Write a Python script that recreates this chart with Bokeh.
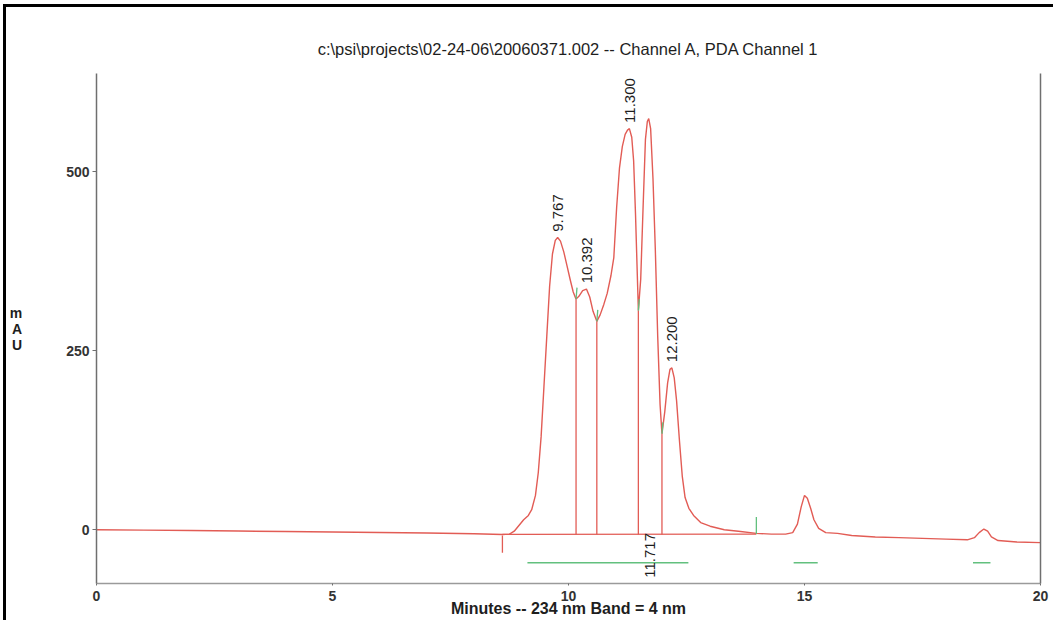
import numpy as np
from bokeh.plotting import figure
from bokeh.models import Range1d, LinearAxis, FixedTicker, ColumnDataSource
from bokeh.core.properties import value
from bokeh.embed import file_html
from bokeh.resources import INLINE

# ---------------- data ----------------
time_min = [0.0, 1.0, 2.0, 3.0, 4.0, 5.0, 6.0, 7.0, 8.0, 8.6,
            8.75, 8.85, 8.95, 9.05, 9.15, 9.22, 9.30, 9.36, 9.42, 9.48,
            9.54, 9.60, 9.66, 9.72, 9.77, 9.83, 9.90, 9.97, 10.04, 10.10,
            10.16, 10.22, 10.30, 10.38, 10.45, 10.52, 10.60, 10.67, 10.75, 10.82,
            10.90, 10.96, 11.02, 11.08, 11.14, 11.20, 11.25, 11.29, 11.34, 11.38,
            11.42, 11.48, 11.53, 11.58, 11.63, 11.67, 11.70, 11.74, 11.79, 11.84,
            11.89, 11.94, 11.98, 12.04, 12.10, 12.15, 12.19, 12.24, 12.29, 12.35,
            12.41, 12.47, 12.55, 12.65, 12.80, 13.00, 13.30, 13.60, 13.98, 14.30,
            14.60, 14.75, 14.85, 14.93, 15.00, 15.06, 15.13, 15.20, 15.30, 15.45,
            15.70, 16.00, 16.50, 17.00, 17.50, 18.00, 18.45, 18.60, 18.70, 18.80,
            18.88, 18.96, 19.10, 19.50, 20.00]
mau = [0.0, -0.5, -1.0, -1.8, -2.5, -3.0, -3.8, -4.5, -5.5, -6.5,
       -6.0, -2.0, 6.0, 14.0, 20.0, 28.0, 48.0, 80.0, 130.0, 200.0,
       270.0, 340.0, 385.0, 404.0, 408.0, 403.0, 388.0, 368.0, 348.0, 332.0,
       322.0, 326.0, 334.0, 336.0, 325.0, 305.0, 291.0, 300.0, 315.0, 330.0,
       355.0, 380.0, 450.0, 505.0, 535.0, 552.0, 558.0, 560.0, 548.0, 515.0,
       440.0, 306.0, 350.0, 450.0, 545.0, 570.0, 574.0, 560.0, 490.0, 390.0,
       270.0, 175.0, 134.0, 165.0, 205.0, 224.0, 226.0, 212.0, 180.0, 125.0,
       75.0, 45.0, 30.0, 20.0, 10.0, 5.0, 0.0, -2.0, -5.0, -6.0,
       -6.0, -4.0, 8.0, 32.0, 48.0, 44.0, 30.0, 14.0, 2.0, -4.0,
       -5.0, -8.0, -10.0, -11.0, -12.0, -13.0, -14.0, -11.0, -4.0, 1.0,
       -2.0, -10.0, -15.0, -17.0, -18.0]

# integration: drop lines at valleys and the drawn baseline
drop_times = [10.16, 10.60, 11.48, 11.98]
drop_heights = [322.0, 291.0, 306.0, 134.0]
baseline_times = [8.60, 13.98]
baseline_values = [-6.5, -6.0]
event_start_time = 8.60
event_end_time = 13.98

# peak retention-time labels
peak_times = [9.767, 10.392, 11.300, 11.717, 12.200]
peak_labels = ["9.767", "10.392", "11.300", "11.717", "12.200"]
peak_heights = [408.0, 336.0, 560.0, 574.0, 226.0]
label_below = [False, False, False, True, False]

# green peak-window bars
window_start = [9.13, 14.77, 18.57]
window_end = [12.54, 15.28, 18.94]

x_ticks = [0, 5, 10, 15, 20]
y_ticks = [0, 250, 500]

# ---------------- styling ----------------
RED = "#e25c55"
GREEN = "#62c07e"
AXIS = "#6f6f6f"
TEXT = "#1e1e1e"
FONT = "Liberation Sans"

p = figure(width=1050, height=616, output_backend="svg", toolbar_location=None,
           x_range=Range1d(0, 20), y_range=Range1d(-75, 637),
           min_border_left=90, min_border_right=16, min_border_top=66,
           min_border_bottom=40,
           title="c:\\psi\\projects\\02-24-06\\20060371.002 -- Channel A, PDA Channel 1")
p.styles = {"margin-left": "3px", "margin-top": "4px",
            "border-left": "3px solid black", "border-top": "3px solid black"}
p.outline_line_color = None
p.grid.visible = False
p.background_fill_color = "white"
p.border_fill_color = "white"

p.title.align = "center"
p.title.text_font = FONT
p.title.text_font_style = "normal"
p.title.text_font_size = "16.5px"
p.title.text_color = TEXT
p.title.standoff = 31

# axes
p.xaxis.ticker = FixedTicker(ticks=x_ticks)
p.yaxis.ticker = FixedTicker(ticks=y_ticks)
for ax in (p.xaxis[0], p.yaxis[0]):
    ax.axis_line_color = AXIS
    ax.axis_line_width = 1.5
    ax.major_tick_line_color = AXIS
    ax.major_tick_in = 0
    ax.major_tick_out = 4
    ax.minor_tick_line_color = None
    ax.major_label_text_font = FONT
    ax.major_label_text_font_style = "bold"
    ax.major_label_text_font_size = "14px"
    ax.major_label_text_color = "#333333"
    ax.axis_label_text_font = FONT
    ax.axis_label_text_font_style = "bold"
    ax.axis_label_text_color = TEXT
p.xaxis.axis_line_color = "#9a9a9a"
p.xaxis.major_tick_out = 2
p.xaxis.major_label_standoff = 5
p.xaxis.axis_label = "Minutes -- 234 nm Band = 4 nm"
p.xaxis.axis_label_text_font_size = "16px"
p.xaxis.axis_label_standoff = -4
p.yaxis.major_label_standoff = 3
p.yaxis.axis_label = "m\nA\nU"
p.yaxis.axis_label_orientation = "horizontal"
p.yaxis.axis_label_text_font_size = "14px"
p.yaxis.axis_label_text_line_height = 1.0
p.yaxis.axis_label_standoff = 41

right_axis = LinearAxis(ticker=FixedTicker(ticks=[]), axis_line_color=AXIS,
                        axis_line_width=1.5, major_tick_line_color=None,
                        minor_tick_line_color=None, major_label_text_font_size="0px")
p.add_layout(right_axis, "right")

# chromatogram trace
p.line(time_min, mau, line_color=RED, line_width=1.4)

# drawn integration baseline
p.line(baseline_times, baseline_values, line_color=RED, line_width=1.3)

# drop lines from baseline up to valleys
p.segment(x0=drop_times, y0=[baseline_values[0]] * len(drop_times),
          x1=drop_times, y1=drop_heights, line_color=RED, line_width=1.3)

# small green valley markers
p.segment(x0=drop_times, y0=drop_heights,
          x1=[t + 0.02 for t in drop_times], y1=[h + 16 for h in drop_heights],
          line_color=GREEN, line_width=1.3)

# event markers: red start tick, green end tick
p.segment(x0=[event_start_time], y0=[-8], x1=[event_start_time], y1=[-32],
          line_color=RED, line_width=1.3)
p.segment(x0=[event_end_time], y0=[-6], x1=[event_end_time], y1=[18],
          line_color=GREEN, line_width=1.3)

# green window bars
p.segment(x0=window_start, y0=[-46] * len(window_start),
          x1=window_end, y1=[-46] * len(window_end),
          line_color=GREEN, line_width=1.3)

# peak labels (rotated)
label_y = [-67 if below else h + 8 for h, below in zip(peak_heights, label_below)]
src = ColumnDataSource(dict(x=peak_times, y=label_y, text=peak_labels))
p.text(x="x", y="y", text="text", source=src, angle=np.pi / 2,
       text_align="left", text_baseline="middle",
       text_font=value(FONT), text_font_size="15px", text_color=TEXT)

open("out.html", "w").write(file_html(p, INLINE))
